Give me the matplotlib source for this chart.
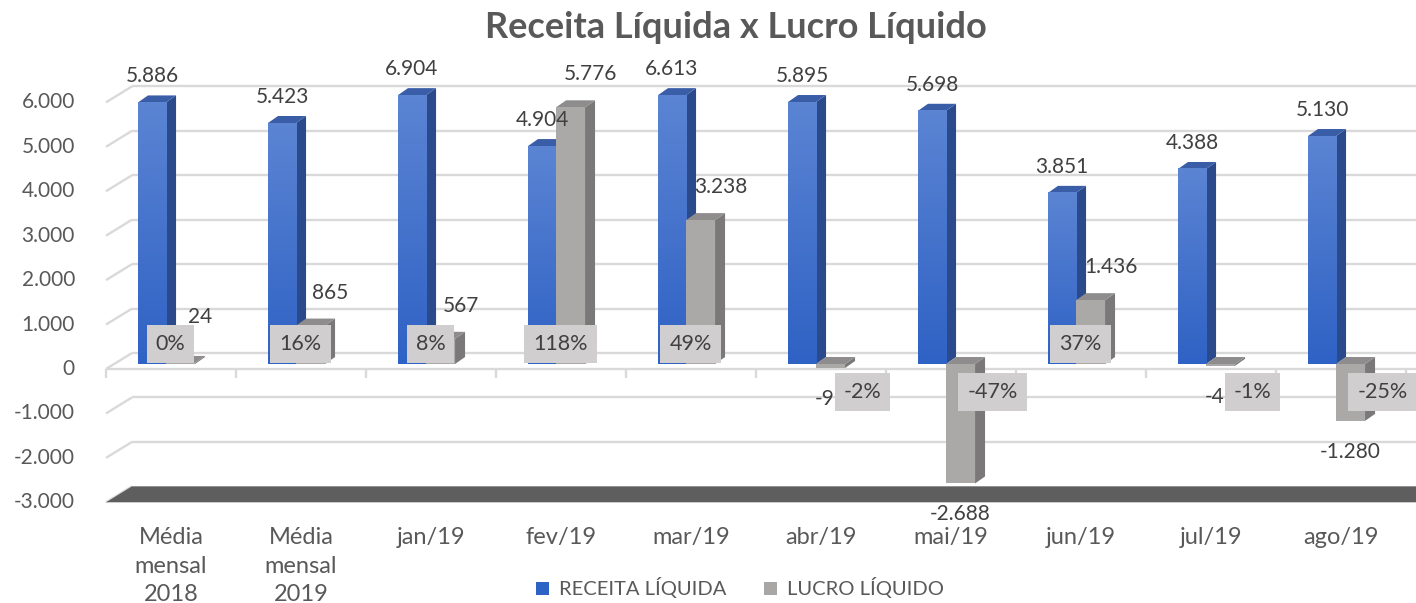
import matplotlib
matplotlib.use("Agg")
import matplotlib.pyplot as plt
import numpy as np
from matplotlib.patches import Polygon, Patch
from matplotlib.lines import Line2D
from matplotlib.transforms import IdentityTransform, Bbox, TransformedBbox
from matplotlib.image import BboxImage
from matplotlib.colors import LinearSegmentedColormap, Normalize

# ---------------- data ----------------
categories = ["Média\nmensal\n2018", "Média\nmensal\n2019", "jan/19", "fev/19", "mar/19",
              "abr/19", "mai/19", "jun/19", "jul/19", "ago/19"]
receita = [5886, 5423, 6904, 4904, 6613, 5895, 5698, 3851, 4388, 5130]
lucro = [24, 865, 567, 5776, 3238, -91, -2688, 1436, -41, -1280]
margem = ["0%", "16%", "8%", "118%", "49%", "-2%", "-47%", "37%", "-1%", "-25%"]
yticks = [6000, 5000, 4000, 3000, 2000, 1000, 0, -1000, -2000, -3000]
series_names = ["RECEITA LÍQUIDA", "LUCRO LÍQUIDO"]
title = "Receita Líquida x Lucro Líquido"

# ---------------- style ----------------
FONT = ["Lato", "DejaVu Sans"]
plt.rcParams["font.family"] = FONT
TXT = "#404040"
AX_TXT = "#595959"
GRID = "#D9D9D9"
BLUE_TOP, BLUE_BOT = "#5B84D3", "#2F62C5"
BLUE_SIDE, BLUE_CAP = "#2A4A8C", "#3A5DA8"
GRAY_FRONT, GRAY_SIDE, GRAY_CAP = "#ABA8A8", "#7A7878", "#8E8C8C"
FLOOR = "#5E5E5E"
BOX = "#D0CECE"

W, H = 1416, 603
K = 0.04444                 # px per unit
ZERO = H - 364              # bar plane zero (px from bottom)
YMIN, YMAX, CAP = -3000, 6150, 6050
FRONT = (0, -5)             # front plane offset (px)
BACK = (26, 11)             # back wall offset (px)
DEPTH = (10, 7)             # bar depth offset (px)

fig = plt.figure(figsize=(W / 100, H / 100), dpi=100)
bot = ZERO + YMIN * K
top = ZERO + YMAX * K
ax = fig.add_axes([106 / W, bot / H, 1300 / W, (top - bot) / H])
ax.set_xlim(-0.5, len(categories) - 0.5)
ax.set_ylim(YMIN, YMAX)
ax.set_autoscale_on(False)
ax.axis("off")

ID = IdentityTransform()


def P(x, y):
    return ax.transData.transform((x, y))


def fmt(v):
    return f"{v:,}".replace(",", ".")


def line(xs, ys, color, lw, z):
    fig.add_artist(Line2D(xs, ys, color=color, lw=lw, transform=ID, zorder=z,
                          solid_capstyle="butt"))


def poly(verts, color, z):
    fig.add_artist(Polygon(verts, closed=True, facecolor=color, edgecolor="none",
                           transform=ID, zorder=z))


n = len(categories)

# back wall gridlines + left diagonals
for v in yticks:
    p = P(-0.5, v)
    if v != YMIN:
        line([p[0] + BACK[0], W + 20], [p[1] + BACK[1]] * 2, GRID, 1.7, 1)
    line([p[0] + FRONT[0], p[0] + BACK[0]], [p[1] + FRONT[1], p[1] + BACK[1]], GRID, 1.7, 1)
    fig.text(p[0] - 31, p[1] + FRONT[1], fmt(v), transform=ID, ha="right", va="center",
             fontsize=15, color=AX_TXT, zorder=5)

# floor slab at axis minimum
fl = P(-0.5, YMIN)
fr = P(n - 0.5, YMIN)
poly([(fl[0] + FRONT[0], fl[1] + FRONT[1]), (fr[0] + 12, fr[1] + FRONT[1]),
      (fr[0] + BACK[0] + 20, fr[1] + BACK[1]), (fl[0] + BACK[0], fl[1] + BACK[1])],
     FLOOR, 1.5)

# category axis (front) with ticks
z0 = P(-0.5, 0)
line([z0[0], W + 20], [z0[1] + FRONT[1]] * 2, GRID, 1.7, 1.2)
for i in range(n + 1):
    p = P(i - 0.5, 0)
    line([p[0], p[0]], [p[1] + FRONT[1], p[1] + FRONT[1] - 9], GRID, 1.7, 1.2)

blue_cmap = LinearSegmentedColormap.from_list("b", [BLUE_BOT, BLUE_TOP])
grad = np.linspace(1, 0, 256)[:, None]


def bar3d(x0, x1, v, front, side, capc, z, gradient=False):
    vv = min(v, CAP)
    a = P(x0, 0)
    b = P(x1, vv)
    xl, xr = a[0], b[0]
    yb, yt = min(a[1], b[1]), max(a[1], b[1])
    dx, dy = DEPTH
    # side face
    poly([(xr, yb), (xr, yt), (xr + dx, yt + dy), (xr + dx, yb + dy)], side, z)
    # top face
    poly([(xl, yt), (xr, yt), (xr + dx, yt + dy), (xl + dx, yt + dy)], capc, z)
    # front face
    if gradient:
        bb = TransformedBbox(Bbox.from_extents(xl, yb, xr, yt), ID)
        im = BboxImage(bb, cmap=blue_cmap, norm=Normalize(0, 1), interpolation="bilinear",
                       origin="upper", zorder=z + 0.01)
        im.set_data(grad)
        fig.add_artist(im)
    else:
        poly([(xl, yb), (xr, yb), (xr, yt), (xl, yt)], front, z + 0.01)
    return (xl + xr) / 2, yt, yb


for i in range(n):
    zb = 3 + i * 0.1
    cx_b, yt_b, _ = bar3d(i - 0.254, i - 0.038, receita[i], None, BLUE_SIDE, BLUE_CAP,
                          zb, gradient=True)
    cx_g, yt_g, yb_g = bar3d(i - 0.038, i + 0.185, lucro[i], GRAY_FRONT, GRAY_SIDE,
                             GRAY_CAP, zb + 0.05)
    zero_y = P(i, 0)[1]
    # receita label
    fig.text(cx_b, yt_b + 26, fmt(receita[i]), transform=ID, ha="center", va="center",
             fontsize=15, color=TXT, zorder=8)
    # lucro label
    if lucro[i] >= 0:
        ly = max(yt_g + 33, zero_y + 47)
        fig.text(cx_g + 20, ly, fmt(lucro[i]), transform=ID, ha="center", va="center",
                 fontsize=15, color=TXT, zorder=8)
        bx, by = cx_g - 10, zero_y + 20
    else:
        fig.text(cx_g, yb_g - 31, fmt(lucro[i]), transform=ID, ha="center", va="center",
                 fontsize=15, color=TXT, zorder=8)
        bx, by = cx_g + 32, zero_y - 28
    fig.text(bx, by, margem[i], transform=ID, ha="center", va="center", fontsize=15.5,
             color=TXT, zorder=9,
             bbox=dict(boxstyle="square,pad=0.42", fc=BOX, ec="none"))
    # category label
    fig.text(P(i, 0)[0], zero_y + FRONT[1] - 158, categories[i], transform=ID,
             ha="center", va="top", fontsize=17, color=AX_TXT, linespacing=1.45, zorder=5)

fig.text(736 / W, 1 - 28 / H, title, ha="center", va="center", fontsize=26,
         fontweight="bold", color=AX_TXT)

handles = [Patch(facecolor=BLUE_BOT, edgecolor="none"),
           Patch(facecolor="#A9A6A6", edgecolor="none")]
fig.legend(handles, series_names, loc="center", bbox_to_anchor=(740 / W, 1 - 588 / H),
           ncol=2, frameon=False, fontsize=14.5, handlelength=0.65, handleheight=0.65,
           handletextpad=0.5, columnspacing=1.9, labelcolor=AX_TXT)

fig.savefig("out.png", dpi=100)
